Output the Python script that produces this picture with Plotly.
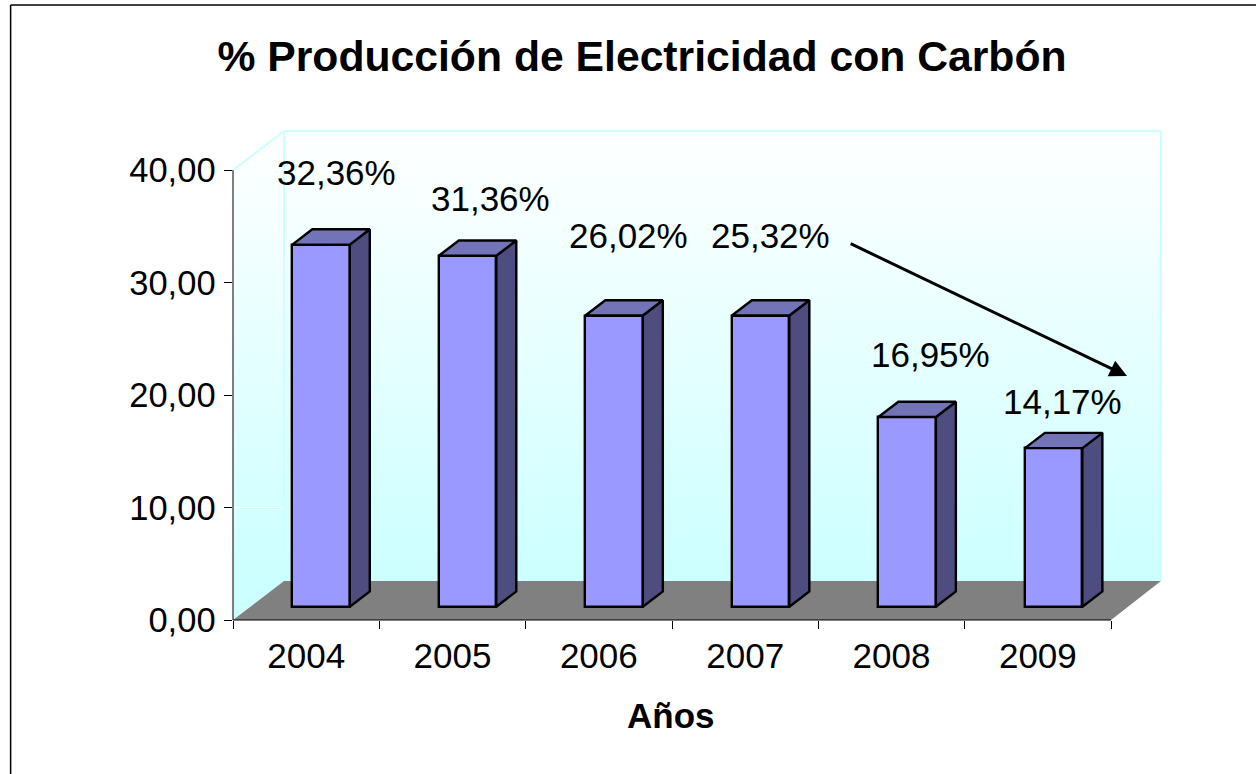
import plotly.graph_objects as go

years = ["2004", "2005", "2006", "2007", "2008", "2009"]
bar_values = [32.36, 31.36, 26.02, 26.02, 16.95, 14.17]
bar_labels = ["32,36%", "31,36%", "26,02%", "25,32%", "16,95%", "14,17%"]
y_ticks = [0, 10, 20, 30, 40]
y_tick_labels = ["0,00", "10,00", "20,00", "30,00", "40,00"]

W, H = 1257, 774
L, R, T, B = 232.5, 1161, 131, 620      # plot area in pixels
FRONT_X = 1111
CAT_PX = (FRONT_X - L) / 6
Y_PX = (B - 170) / 40


def dx(p):
    return (p - L) / CAT_PX - 0.5


def dy(p):
    return (B - p) / Y_PX


def pxx(p):
    return (p - L) / (R - L)


def pxy(p):
    return (B - p) / (B - T)


xr = [dx(L), dx(R)]
yr = [dy(B), dy(T)]

# 3D depth of the chart, in axis units
wall_dx, wall_dy = 51 / CAT_PX, 39 / Y_PX
bar_first_center = dx(320.6)
bar_pitch = 146.6 / CAT_PX
bar_w = 57.5 / CAT_PX
bar_base = 13.3 / Y_PX
bar_scale = 11.19 / Y_PX
depth_x, depth_y = 20 / CAT_PX, 15.3 / Y_PX
EDGE = 2.4

WALL = "#CCFFFF"
grad = dict(type="vertical", start=dy(T), stop=dy(581),
            colorscale=[[0, "#FFFFFF"], [1, WALL]])

fig = go.Figure()

# back wall
x0, x1 = dx(L) + wall_dx, dx(R)
fig.add_trace(go.Scatter(
    x=[x0, x1, x1, x0, x0], y=[wall_dy, wall_dy, yr[1], yr[1], wall_dy],
    mode="none", fill="toself", fillgradient=grad, hoverinfo="skip", showlegend=False))
# left wall
fig.add_trace(go.Scatter(
    x=[dx(L), x0, x0, dx(L), dx(L)], y=[0, wall_dy, yr[1], 40, 0],
    mode="none", fill="toself", fillgradient=grad, hoverinfo="skip", showlegend=False))
# white gridline fragment on side wall
fig.add_trace(go.Scatter(
    x=[dx(L), dx(L) + 49 / CAT_PX], y=[10, 10], mode="lines",
    line=dict(color="#FFFFFF", width=1), hoverinfo="skip", showlegend=False))
# floor
fig.add_trace(go.Scatter(
    x=[dx(L), x0, x1, dx(FRONT_X), dx(L)], y=[0, wall_dy, wall_dy, 0, 0],
    mode="none", fill="toself", fillcolor="#808080", hoverinfo="skip", showlegend=False))

# bars (overlay subplot so they sit above the walls)
centers = [bar_first_center + i * bar_pitch for i in range(len(years))]
heights = [v * bar_scale for v in bar_values]
fig.add_trace(go.Bar(
    x=centers, y=heights, base=bar_base, width=bar_w, xaxis="x2", yaxis="y2",
    marker=dict(color="#9999FF", line=dict(color="#000000", width=EDGE)),
    customdata=years, hovertemplate="%{customdata}: %{y:.2f}<extra></extra>",
    showlegend=False))

side_x, side_y, top_x, top_y = [], [], [], []
for c, h in zip(centers, heights):
    xl, xr_ = c - bar_w / 2, c + bar_w / 2
    yb, yt = bar_base, bar_base + h
    side_x += [xr_, xr_ + depth_x, xr_ + depth_x, xr_, xr_, None]
    side_y += [yb, yb + depth_y, yt + depth_y, yt, yb, None]
    top_x += [xl, xl + depth_x, xr_ + depth_x, xr_, xl, None]
    top_y += [yt, yt + depth_y, yt + depth_y, yt, yt, None]
fig.add_trace(go.Scatter(
    x=side_x, y=side_y, xaxis="x2", yaxis="y2", mode="lines", fill="toself",
    fillcolor="#4D4D80", line=dict(color="#000000", width=EDGE),
    hoverinfo="skip", showlegend=False))
fig.add_trace(go.Scatter(
    x=top_x, y=top_y, xaxis="x2", yaxis="y2", mode="lines", fill="toself",
    fillcolor="#7373B8", line=dict(color="#000000", width=EDGE),
    hoverinfo="skip", showlegend=False))

FONT = "Liberation Sans, Arial, sans-serif"

label_px = [(336, 172.5), (490, 198.5), (628, 235.5), (770, 235.5), (930, 354.5), (1062, 401.5)]
annotations = [
    dict(x=dx(px), y=dy(py), xref="x", yref="y", text=t, showarrow=False,
         xanchor="center", yanchor="middle", font=dict(family=FONT, size=35, color="#000000"))
    for t, (px, py) in zip(bar_labels, label_px)
]
annotations.append(dict(
    x=pxx(671), y=pxy(715), xref="paper", yref="paper", text="<b>Años</b>",
    showarrow=False, xanchor="center", yanchor="middle",
    font=dict(family=FONT, size=35, color="#000000")))
annotations.append(dict(
    x=dx(1127), y=dy(376), ax=dx(849), ay=dy(243), xref="x", yref="y", axref="x", ayref="y",
    text="", showarrow=True, arrowhead=2, arrowsize=1.15, arrowwidth=3, arrowcolor="#000000",
    standoff=0, startstandoff=0))


def seg(xa, ya, xb, yb, color, width):
    return dict(type="line", xref="paper", yref="paper", x0=pxx(xa), x1=pxx(xb),
                y0=pxy(ya), y1=pxy(yb), line=dict(color=color, width=width), layer="above")


shapes = [
    # chart frame
    seg(10, 5, 1256, 5, "#000000", 1.5),
    seg(10, 5, 10, 774, "#000000", 1.5),
    # wall edges
    seg(L, 170, L + 51, T, WALL, 2),
    seg(L + 51, T, R, T, WALL, 2),
    seg(R, T, R, 581, WALL, 2),
    seg(L + 51, T, L + 51, 581, WALL, 2),
    # axis lines
    seg(L, 170, L, B, "#000000", 1),
    seg(L, B, FRONT_X, B, "#000000", 1),
]

fig.update_layout(
    width=W, height=H, autosize=False,
    margin=dict(l=L, r=W - R, t=T, b=H - B, pad=0),
    paper_bgcolor="#FFFFFF", plot_bgcolor="rgba(0,0,0,0)",
    font=dict(family=FONT, color="#000000", size=35),
    title=dict(text="<b>% Producción de Electricidad con Carbón</b>",
               x=642 / W, xanchor="center", xref="container", y=1 - 56.5 / H, yanchor="middle",
               font=dict(family=FONT, size=42.7, color="#000000")),
    xaxis=dict(range=xr, tickmode="array", tickvals=list(range(6)), ticktext=years,
               ticks="", showgrid=False, zeroline=False, showline=False,
               ticklabelstandoff=12,
               tickfont=dict(family=FONT, size=35, color="#000000"),
               minor=dict(tickmode="array", tickvals=[i - 0.5 for i in range(7)], ticks="outside",
                          ticklen=8, tickwidth=1, tickcolor="#000000", showgrid=False)),
    yaxis=dict(range=yr, tickmode="array", tickvals=y_ticks, ticktext=y_tick_labels,
               ticks="outside", ticklen=8.5, tickwidth=1, tickcolor="#000000",
               showgrid=False, zeroline=False, showline=False, ticklabelstandoff=1,
               tickfont=dict(family=FONT, size=34.5, color="#000000")),
    xaxis2=dict(range=xr, overlaying="x", visible=False),
    yaxis2=dict(range=yr, overlaying="y", visible=False),
    bargap=0,
    annotations=annotations,
    shapes=shapes,
)

fig.write_html("out.html", post_script="document.body.style.margin='0';",
               config=dict(displayModeBar=False))
